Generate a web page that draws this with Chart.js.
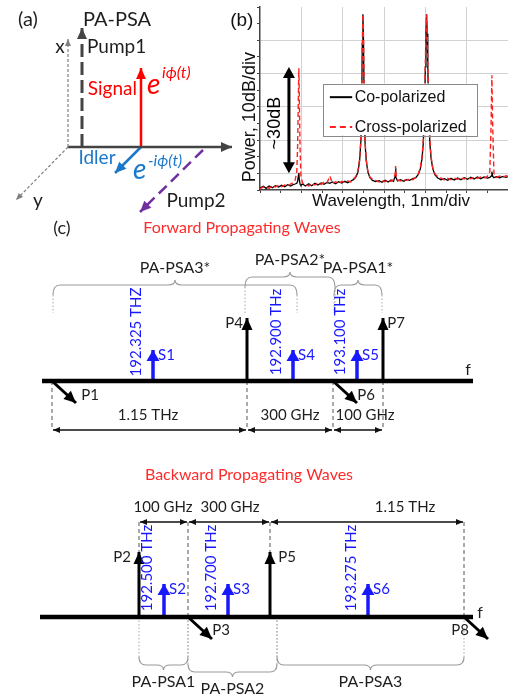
<!doctype html>
<html lang="en">
<head>
<meta charset="utf-8">
<title>PA-PSA</title>
<script src="https://cdn.jsdelivr.net/npm/chart.js@4.4.1/dist/chart.umd.min.js"></script>
<style>
  body { margin: 0; background: #fff; }
  #page { position: relative; width: 508px; height: 697px; overflow: hidden; }
  canvas { position: absolute; }
</style>
</head>
<body>
<div id="page">
  <canvas id="panelA" width="236" height="215" style="left:0;top:0"></canvas>
  <canvas id="panelB" width="280" height="215" style="left:228px;top:0"></canvas>
  <canvas id="fwd" width="508" height="225" style="left:0;top:215px"></canvas>
  <canvas id="bwd" width="508" height="257" style="left:0;top:440px"></canvas>
</div>
<script>
// ---- (b) measured spectrum, x in divisions (1 nm/div), y in dB (10 dB/div)
const wavelengthDiv = [
  0, 0.08, 0.15, 0.22, 0.3, 0.37, 0.45, 0.52, 0.6, 0.67,
  0.74, 0.8, 0.85, 0.89, 0.91, 0.93, 0.94, 0.95, 0.97, 0.99,
  1.03, 1.1, 1.18, 1.25, 1.33, 1.4, 1.48, 1.55, 1.62, 1.69,
  1.75, 1.83, 1.9, 1.98, 2.05, 2.12, 2.2, 2.26, 2.32, 2.37,
  2.41, 2.44, 2.46, 2.475, 2.49, 2.505, 2.52, 2.54, 2.57, 2.61,
  2.66, 2.72, 2.8, 2.88, 2.95, 3.03, 3.1, 3.17, 3.23, 3.27,
  3.28, 3.29, 3.33, 3.4, 3.48, 3.55, 3.62, 3.7, 3.77, 3.83,
  3.88, 3.92, 3.95, 3.98, 4, 4.015, 4.03, 4.045, 4.06, 4.08,
  4.11, 4.14, 4.18, 4.23, 4.3, 4.38, 4.46, 4.54, 4.62, 4.7,
  4.78, 4.86, 4.94, 5.02, 5.1, 5.18, 5.26, 5.34, 5.42, 5.5,
  5.56, 5.59, 5.61, 5.63, 5.66, 5.72, 5.8, 5.88, 5.95, 6
];
const coPolarized = [
  -74.4, -73.9, -74.5, -73.8, -74.3, -73.7, -74.1, -73.6, -74.0, -73.4,
  -73.8, -73.4, -73.2, -73.0, -72.4, -70.5, -69.8, -71.8, -73.3, -73.6,
  -73.2, -73.8, -73.1, -73.7, -73.0, -73.5, -72.9, -73.3, -72.7, -73.0,
  -72.6, -73.1, -72.5, -72.9, -72.4, -72.8, -72.3, -71.9, -71.1, -69.6,
  -66.2, -60.5, -49, -31, -22.2, -31, -49, -60.5, -66.2, -69.6,
  -71.3, -72.1, -72.5, -72.2, -72.7, -72.1, -72.6, -72.0, -72.4, -70.8,
  -68.5, -71.2, -72.3, -71.9, -72.4, -71.8, -72.1, -71.6, -71.3, -70.3,
  -68.6, -65.6, -61, -52, -38, -28, -22.2, -28, -38, -52,
  -61, -65.6, -68.6, -70.4, -71.4, -71.9, -71.6, -72.1, -71.5, -72.0,
  -71.4, -71.9, -71.3, -71.8, -71.2, -71.7, -71.1, -71.6, -71.1, -71.4,
  -71.2, -70.8, -69.5, -70.9, -71.3, -71.0, -71.3, -70.9, -71.2, -71.0
];
const crossPolarized = [
  -74.6, -74.1, -74.0, -74.5, -73.7, -74.1, -73.6, -74.0, -73.5, -73.8,
  -73.2, -72.8, -72.0, -69.5, -62, -46, -38.4, -46, -63, -70.8,
  -72.9, -73.3, -73.8, -73.0, -73.5, -72.9, -73.3, -72.6, -72.9, -70.8,
  -73.0, -72.5, -73.0, -72.4, -72.8, -72.3, -72.6, -71.7, -70.9, -69.1,
  -65.6, -59.5, -48, -30, -22.2, -30, -48, -59.8, -65.8, -69.4,
  -71.1, -71.8, -72.1, -72.6, -72.1, -72.5, -72.0, -72.4, -71.9, -70.0,
  -67.8, -70.4, -72.0, -72.3, -71.8, -72.1, -71.6, -71.9, -71.1, -70.1,
  -68.3, -65.1, -60, -51, -37, -28, -22.2, -28, -37, -51,
  -60, -65.1, -68.3, -70.1, -71.0, -71.4, -72.0, -71.5, -71.9, -71.4,
  -71.8, -71.3, -71.7, -71.2, -71.6, -71.1, -71.5, -71.1, -71.4, -70.9,
  -69.5, -56, -40.5, -56, -70.0, -71.2, -70.8, -71.2, -70.7, -70.9
];
const seriesNames = ['Co-polarized', 'Cross-polarized'];

// ---- (a) field vectors, diagram units (origin at the axes corner)
const aVectors = ['x', 'y', 'z', 'Pump1', 'Signal', 'Idler', 'Pump2'];
const aFrom = [[0, 0], [0, 0], [0, 0], [14, 0], [73, 0], [73, 0], [135, -3]];
const aTo = [[0, 108], [-52, -53], [164, 0], [14, 119], [73, 79], [47, -26], [72, -65]];

// ---- (c) frequency plans, positions along the (not to scale) f axis
const fwdPumps = ['P1', 'P4', 'P6', 'P7'];
const fwdPumpPos = [52, 247, 333, 383];
const fwdPumpUp = [false, true, false, true];
const fwdSignals = ['S1', 'S4', 'S5'];
const fwdSignalPos = [153, 293, 357];
const fwdSignalFreq = ['192.325 THZ', '192.900 THz', '193.100 THz'];
const fwdSpacings = ['1.15 THz', '300 GHz', '100 GHz'];
const fwdPsa = ['PA-PSA3*', 'PA-PSA2*', 'PA-PSA1*'];
const fwdPsaSpan = [[53, 297], [245, 335], [334, 382]];

const bwdPumps = ['P2', 'P3', 'P5', 'P8'];
const bwdPumpPos = [139, 188, 270, 464];
const bwdPumpUp = [true, false, true, false];
const bwdSignals = ['S2', 'S3', 'S6'];
const bwdSignalPos = [164, 228, 368];
const bwdSignalFreq = ['192.500 THz', '192.700 THz', '193.275 THz'];
const bwdSpacings = ['100 GHz', '300 GHz', '1.15 THz'];
const bwdPsa = ['PA-PSA1', 'PA-PSA2', 'PA-PSA3'];
const bwdPsaSpan = [[139, 188], [188, 277], [277, 464]];

const CAL = 'Lato, "Open Sans", sans-serif';
const ARIAL = '"Liberation Sans", Arial, sans-serif';
const RED = '#ff2a2a', BLUE = '#1818ff', INK = '#1e1e1e';

Chart.defaults.animation = false;
Chart.defaults.responsive = false;
Chart.defaults.devicePixelRatio = 1;
Chart.defaults.events = [];

function arrowHead(ctx, x1, y1, x2, y2, len, wid, color) {
  const a = Math.atan2(y2 - y1, x2 - x1);
  ctx.save();
  ctx.translate(x2, y2);
  ctx.rotate(a);
  ctx.fillStyle = color;
  ctx.beginPath();
  ctx.moveTo(0, 0);
  ctx.lineTo(-len, wid / 2);
  ctx.lineTo(-len, -wid / 2);
  ctx.closePath();
  ctx.fill();
  ctx.restore();
}

function drawText(ctx, t, x, y) {
  ctx.save();
  ctx.translate(x, y);
  if (t.rot) ctx.rotate(t.rot);
  ctx.font = t.font;
  ctx.fillStyle = t.color || INK;
  ctx.textAlign = t.align || 'center';
  ctx.textBaseline = 'middle';
  ctx.fillText(t.text, 0, 0);
  ctx.restore();
}

function seg(x1, y1, x2, y2, color, width, dash, head, headSize) {
  return {
    data: [{ x: x1, y: y1 }, { x: x2, y: y2 }],
    showLine: true, pointRadius: 0, borderColor: color, borderWidth: width,
    borderDash: dash || [], borderCapStyle: 'butt', head: head || '', headSize: headSize || [11, 10]
  };
}

// draws arrow heads of the datasets, curly braces and labels in data units
function diagramPlugin(texts, braces) {
  return {
    id: 'diagram',
    afterDatasetsDraw(chart) {
      const ctx = chart.ctx, xs = chart.scales.x, ys = chart.scales.y;
      chart.data.datasets.forEach((ds, i) => {
        if (!ds.head) return;
        const pts = chart.getDatasetMeta(i).data;
        const a = pts[0], b = pts[pts.length - 1];
        const [len, wid] = ds.headSize;
        arrowHead(ctx, a.x, a.y, b.x, b.y, len, wid, ds.borderColor);
        if (ds.head === 'both') arrowHead(ctx, b.x, b.y, a.x, a.y, len, wid, ds.borderColor);
      });
      braces.forEach(b => {
        const xa = xs.getPixelForValue(b.x1), xb = xs.getPixelForValue(b.x2);
        const yArm = ys.getPixelForValue(b.arm), yBar = ys.getPixelForValue(b.bar), yTip = ys.getPixelForValue(b.tip);
        const xm = (xa + xb) / 2, r = Math.min(7, (xb - xa) / 5);
        ctx.save();
        ctx.strokeStyle = '#9a9a9a';
        ctx.lineWidth = 1.2;
        ctx.beginPath();
        ctx.moveTo(xa, yArm);
        ctx.quadraticCurveTo(xa, yBar, xa + r, yBar);
        ctx.lineTo(xm - r, yBar);
        ctx.quadraticCurveTo(xm, yBar, xm, yTip);
        ctx.quadraticCurveTo(xm, yBar, xm + r, yBar);
        ctx.lineTo(xb - r, yBar);
        ctx.quadraticCurveTo(xb, yBar, xb, yArm);
        ctx.stroke();
        ctx.restore();
      });
      texts.forEach(t => drawText(ctx, t, xs.getPixelForValue(t.x), ys.getPixelForValue(t.y)));
    }
  };
}

function diagram(id, xRange, yRange, datasets, texts, braces) {
  new Chart(document.getElementById(id), {
    type: 'scatter',
    data: { datasets },
    options: {
      layout: { padding: 0 },
      plugins: { legend: { display: false }, tooltip: { enabled: false } },
      scales: {
        x: { type: 'linear', display: false, min: xRange[0], max: xRange[1] },
        y: { type: 'linear', display: false, min: yRange[0], max: yRange[1] }
      }
    },
    plugins: [diagramPlugin(texts, braces || [])]
  });
}

// ---------- panel (a)
(function () {
  const styles = {
    x: ['#808080', 1.2, [3, 2], [7, 6]],
    y: ['#808080', 1.2, [3, 2], [7, 6]],
    z: ['#444', 2.5, [], [11, 10]],
    Pump1: ['#444', 3, [13, 5], [11, 10]],
    Signal: ['#ff0000', 2.5, [], [11, 10]],
    Idler: ['#1a78cc', 2.5, [], [11, 10]],
    Pump2: ['#7030a0', 2.5, [11, 6], [11, 10]]
  };
  const ds = aVectors.map((n, i) => {
    const s = styles[n];
    return seg(aFrom[i][0], aFrom[i][1], aTo[i][0], aTo[i][1], s[0], s[1], s[2], 'end', s[3]);
  });
  const f = s => s + 'px ' + CAL, fi = s => 'italic ' + s + 'px ' + CAL;
  const texts = [
    { text: '(a)', x: -40, y: 127, font: f(20) },
    { text: 'PA-PSA', x: 49, y: 127, font: f(20) },
    { text: 'x', x: -8, y: 100, font: f(19) },
    { text: 'Pump1', x: 19, y: 100, font: f(19), align: 'left' },
    { text: 'Signal', x: 69, y: 58, font: f(19), align: 'right', color: '#ff0000' },
    { text: 'e', x: 79, y: 62, font: fi(28), align: 'left', color: '#ff0000' },
    { text: 'i\u03d5(t)', x: 94, y: 74, font: fi(16), align: 'left', color: '#ff0000' },
    { text: 'y', x: -30, y: -54, font: f(19) },
    { text: 'Idler', x: 29, y: -11, font: f(19), color: '#1a78cc' },
    { text: 'e', x: 65, y: -23, font: fi(28), align: 'left', color: '#1a78cc' },
    { text: '-i\u03d5(t)', x: 80, y: -14, font: fi(16), align: 'left', color: '#1a78cc' },
    { text: 'Pump2', x: 128, y: -54, font: f(19) }
  ];
  diagram('panelA', [-68, 168], [-68, 147], ds, texts);
})();

// ---------- panel (b)
const spectrumPlugin = {
  id: 'spectrumNotes',
  afterDatasetsDraw(chart) {
    const ctx = chart.ctx, xs = chart.scales.x, ys = chart.scales.y;
    const X = v => xs.getPixelForValue(v), Y = v => ys.getPixelForValue(v);
    // ~30dB double arrow
    ctx.save();
    ctx.strokeStyle = '#000';
    ctx.lineWidth = 3;
    ctx.beginPath();
    ctx.moveTo(X(0.7), Y(-40));
    ctx.lineTo(X(0.7), Y(-68));
    ctx.stroke();
    ctx.restore();
    arrowHead(ctx, X(0.7), Y(-50), X(0.7), Y(-38), 11, 12, '#000');
    arrowHead(ctx, X(0.7), Y(-60), X(0.7), Y(-70), 11, 12, '#000');
    drawText(ctx, { text: '~30dB', font: '18px ' + ARIAL, rot: -Math.PI / 2, color: '#000' }, X(0.36), Y(-54.9));
    // legend box
    const l = X(1.52), r = X(5.25), t = Y(-43), b = Y(-58.5);
    ctx.save();
    ctx.fillStyle = '#fff';
    ctx.fillRect(l, t, r - l, b - t);
    ctx.strokeStyle = '#8a8a8a';
    ctx.lineWidth = 1;
    ctx.strokeRect(Math.round(l) + 0.5, Math.round(t) + 0.5, Math.round(r - l), Math.round(b - t));
    const rows = [[-47.1, '#000', []], [-56.1, '#ff2020', [6, 4]]];
    rows.forEach((row, i) => {
      ctx.strokeStyle = row[1];
      ctx.lineWidth = 2;
      ctx.setLineDash(row[2]);
      ctx.beginPath();
      ctx.moveTo(X(1.69), Y(row[0]));
      ctx.lineTo(X(2.23), Y(row[0]));
      ctx.stroke();
      ctx.setLineDash([]);
      drawText(ctx, { text: seriesNames[i], font: '16px ' + ARIAL, align: 'left', color: '#111' }, X(2.29), Y(row[0]));
    });
    ctx.restore();
    // axis titles and panel tag
    drawText(ctx, { text: 'Power, 10dB/div', font: '18px ' + ARIAL, rot: -Math.PI / 2, color: '#111' }, X(-0.24), Y(-53.1));
    drawText(ctx, { text: 'Wavelength, 1nm/div', font: '17px ' + ARIAL, color: '#111' }, X(3.17), Y(-78.5));
    drawText(ctx, { text: '(b)', font: '19px ' + ARIAL, color: '#111' }, X(-0.44), Y(-24));
  }
};

new Chart(document.getElementById('panelB'), {
  type: 'line',
  data: {
    datasets: [
      { label: seriesNames[0], data: wavelengthDiv.map((x, i) => ({ x, y: coPolarized[i] })),
        borderColor: '#000', borderWidth: 1.3, pointRadius: 0, tension: 0, order: 1 },
      { label: seriesNames[1], data: wavelengthDiv.map((x, i) => ({ x, y: crossPolarized[i] })),
        borderColor: '#ff2020', borderWidth: 1.4, borderDash: [5, 3], pointRadius: 0, tension: 0, order: 0 }
    ]
  },
  options: {
    layout: { padding: { top: 7, right: 0, bottom: 0, left: 0 } },
    plugins: { legend: { display: false }, tooltip: { enabled: false } },
    scales: {
      x: {
        type: 'linear', min: 0, max: 6,
        ticks: { display: false, stepSize: 0.5 },
        grid: {
          color: c => (c.tick && Number.isInteger(c.tick.value) && c.tick.value > 0 && c.tick.value < 6) ? '#d2d2d2' : 'rgba(0,0,0,0)',
          tickColor: '#444', tickLength: 3
        },
        border: { color: '#444', width: 1.5 },
        afterFit: s => { s.height = 25; }
      },
      y: {
        type: 'linear', min: -75, max: -20,
        ticks: { display: false, stepSize: 5 },
        grid: {
          color: c => (c.tick && c.tick.value % 10 === 0 && c.tick.value > -75 && c.tick.value < -20) ? '#d2d2d2' : 'rgba(0,0,0,0)',
          tickColor: '#444', tickLength: 3
        },
        border: { color: '#444', width: 1.5 },
        afterFit: s => { s.width = 32; }
      }
    }
  },
  plugins: [spectrumPlugin]
});

// ---------- panel (c)
function waves(id, yRange, L, pumps, pumpPos, pumpUp, signals, sigPos, sigFreq, spacings, psa, psaSpan) {
  const ds = [], texts = [], braces = [];
  const f = s => s + 'px ' + CAL;
  ds.push(seg(L.axis[0], 0, L.axis[1], 0, '#000', 4.5));
  pumps.forEach((p, i) => {
    const x = pumpPos[i];
    if (pumpUp[i]) {
      ds.push(seg(x, 0, x, L.pumpH, '#000', 3, [], 'end', [12, 11]));
      texts.push({ text: p, x: L.pumpLabelX[i], y: L.pumpH - 5, font: f(15) });
    } else {
      ds.push(seg(x, 0, x + 24, -22, '#000', 3, [], 'end', [12, 11]));
      texts.push({ text: p, x: L.pumpLabelX[i], y: L.downLabelY, font: f(15) });
    }
    ds.push(seg(x, 0, x, L.dimY, '#555', 1, [4, 3]));
  });
  signals.forEach((s, i) => {
    const x = sigPos[i];
    ds.push(seg(x, 0, x, L.sigH, BLUE, 3.5, [], 'end', [11, 13]));
    texts.push({ text: s, x: x + 5, y: L.sigH - 5, font: f(15), align: 'left', color: BLUE });
    texts.push({ text: sigFreq[i], x: x - 17, y: 49, font: f(15), rot: -Math.PI / 2, color: BLUE });
  });
  const sorted = pumpPos.slice().sort((a, b) => a - b);
  spacings.forEach((s, i) => {
    ds.push(seg(sorted[i] + 1, L.dimY, sorted[i + 1] - 1, L.dimY, '#111', 1.3, [], 'both', [7, 6]));
    texts.push({ text: s, x: L.spacingLabelX[i], y: L.spacingLabelY, font: f(15) });
  });
  psa.forEach((n, i) => {
    const sh = L.psaLevel[i] * L.levelStep;
    const b = { x1: psaSpan[i][0], x2: psaSpan[i][1], arm: L.arm + sh, bar: L.bar + sh, tip: L.tip + sh };
    braces.push(b);
    [b.x1, b.x2].forEach(x => ds.push(seg(x, b.arm, x, L.extTo, '#a8a8a8', 1, [1.5, 2])));
    texts.push({ text: n, x: (b.x1 + b.x2) / 2, y: b.tip + L.labelGap, font: f(16) });
  });
  texts.push({ text: L.title, x: L.titleAt[0], y: L.titleAt[1], font: f(16), color: RED });
  texts.push({ text: 'f', x: L.fAt[0], y: L.fAt[1], font: f(16) });
  if (L.tag) texts.push({ text: L.tag, x: 62, y: 153, font: f(18) });
  diagram(id, [0, 508], yRange, ds, texts, braces);
}

waves('fwd', [-59, 166], {
  axis: [42, 473], pumpH: 63, sigH: 31, dimY: -49, downLabelY: -14,
  pumpLabelX: [90, 234, 366, 396], spacingLabelX: [148, 290, 365], spacingLabelY: -34,
  arm: 86, bar: 96, tip: 101, levelStep: 8, psaLevel: [0, 1, 0], extTo: 68, labelGap: 12,
  title: 'Forward Propagating Waves', titleAt: [242, 153], fAt: [468, 11], tag: '(c)'
}, fwdPumps, fwdPumpPos, fwdPumpUp, fwdSignals, fwdSignalPos, fwdSignalFreq, fwdSpacings, fwdPsa, fwdPsaSpan);

waves('bwd', [-80, 177], {
  axis: [40, 473], pumpH: 65, sigH: 33, dimY: 95, downLabelY: -13,
  pumpLabelX: [122, 221, 287, 460], spacingLabelX: [163, 230, 405], spacingLabelY: 110,
  arm: -40, bar: -48, tip: -53, levelStep: -7, psaLevel: [0, 1, 0], extTo: 0, labelGap: -12,
  title: 'Backward Propagating Waves', titleAt: [249, 142], fAt: [480, 4]
}, bwdPumps, bwdPumpPos, bwdPumpUp, bwdSignals, bwdSignalPos, bwdSignalFreq, bwdSpacings, bwdPsa, bwdPsaSpan);
</script>
</body>
</html>
